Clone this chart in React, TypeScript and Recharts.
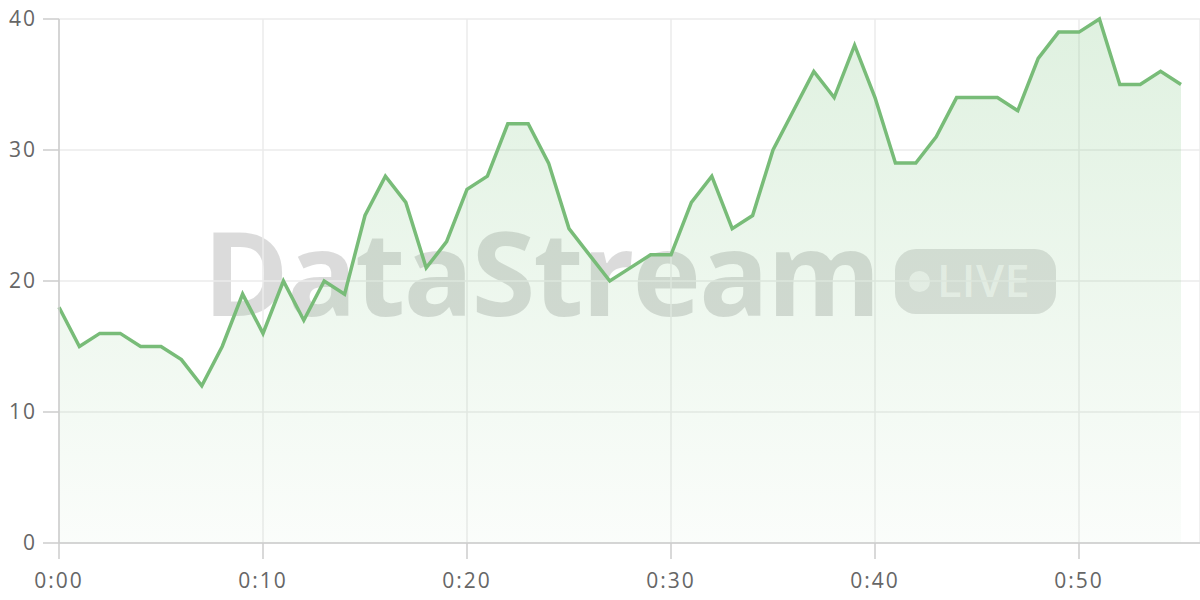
import { AreaChart, Area, XAxis, YAxis, CartesianGrid } from 'recharts'

const values = [
  18, 15, 16, 16, 15, 15, 14, 12, 15, 19,
  16, 20, 17, 20, 19, 25, 28, 26, 21, 23,
  27, 28, 32, 32, 29, 24, 22, 20, 21, 22,
  22, 26, 28, 24, 25, 30, 33, 36, 34, 38,
  34, 29, 29, 31, 34, 34, 34, 33, 37, 39,
  39, 40, 35, 35, 36, 35,
]
const xTicks = [0, 10, 20, 30, 40, 50]
const yTicks = [0, 10, 20, 30, 40]
const brand = 'DataStream'
const badge = 'LIVE'

const data = values.map((value, minute) => ({ minute, value }))
const fmtTime = (m: number) => `0:${String(m).padStart(2, '0')}`

const tickStyle = { fill: '#666', fontSize: 21, letterSpacing: 2, fontFamily: 'Open Sans, sans-serif' }

function Watermark() {
  return (
    <div style={{ position: 'absolute', left: 59, top: 19, width: 1141, height: 524, display: 'flex', alignItems: 'center', justifyContent: 'center', gap: 16, pointerEvents: 'none' }}>
      <span style={{ fontFamily: 'Open Sans, sans-serif', fontWeight: 700, fontSize: 116, letterSpacing: -2, color: 'rgba(0,0,0,0.14)', lineHeight: 1, marginTop: -20 }}>{brand}</span>
      <span style={{ display: 'flex', alignItems: 'center', height: 65, width: 161, boxSizing: 'border-box', padding: '0 0 0 14px', borderRadius: 21, background: 'rgba(0,0,0,0.12)' }}>
        <span style={{ width: 21, height: 21, borderRadius: 11, background: 'rgba(255,255,255,0.62)', marginRight: 7 }} />
        <span style={{ fontFamily: 'Open Sans, sans-serif', fontWeight: 600, fontSize: 45, letterSpacing: 0.5, color: 'rgba(255,255,255,0.62)', lineHeight: 1, marginTop: -3 }}>{badge}</span>
      </span>
    </div>
  )
}

export default function App() {
  return (
    <div style={{ position: 'absolute', left: 0, top: 0, width: 1200, height: 600, background: '#fff' }}>
      <Watermark />
      <div style={{ position: 'absolute', left: 0, top: 0 }}>
        <AreaChart width={1200} height={600} data={data} margin={{ top: 19, right: 0, bottom: 0, left: 0 }}>
          <defs>
            <linearGradient id="valueGrad" x1="0" y1="0" x2="0" y2="1">
              <stop offset="0%" stopColor="#81c784" stopOpacity={0.42} />
              <stop offset="100%" stopColor="#81c784" stopOpacity={0.06} />
            </linearGradient>
          </defs>
          <CartesianGrid stroke="#ebebeb" strokeWidth={1.5} />
          <XAxis dataKey="minute" type="number" domain={[0, 55]} ticks={xTicks} tickFormatter={fmtTime}
            padding={{ left: 0, right: 19 }} height={57} tickSize={16} tickMargin={14}
            stroke="#ccc" strokeWidth={1.5} tick={tickStyle} />
          <YAxis domain={[0, 40]} ticks={yTicks} width={59} tickSize={16} tickMargin={6}
            stroke="#ccc" strokeWidth={1.5} tick={tickStyle} />
          <Area type="linear" dataKey="value" stroke="#78bc78" strokeWidth={3.5} fill="url(#valueGrad)"
            isAnimationActive={false} dot={false} activeDot={false} />
        </AreaChart>
      </div>
    </div>
  )
}
